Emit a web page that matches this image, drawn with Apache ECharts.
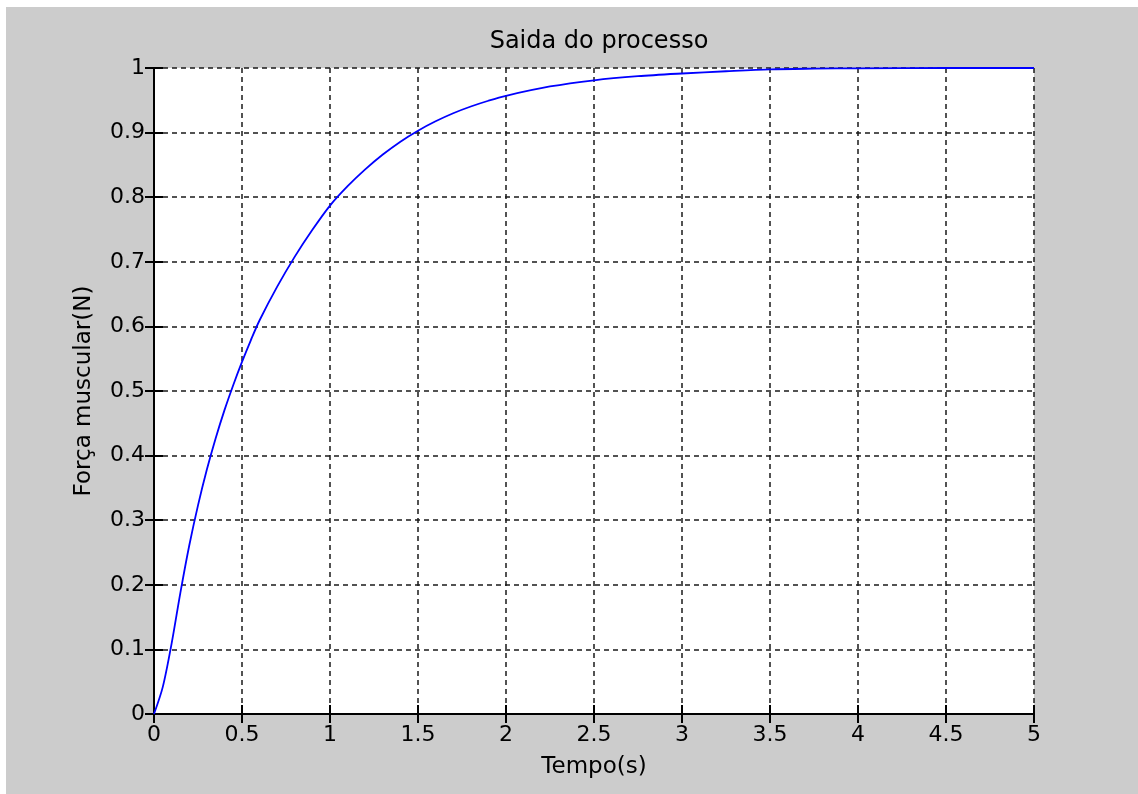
<!DOCTYPE html>
<html>
<head>
<meta charset="utf-8">
<style>
  html, body { margin: 0; padding: 0; background: #ffffff; }
  #chart { position: absolute; left: 6px; top: 7px; width: 1132px; height: 787px; background: #cccccc; }
</style>
<script src="https://cdn.jsdelivr.net/npm/echarts@6/dist/echarts.min.js"></script>
</head>
<body>
<div id="chart"></div>
<script>
const titleText = 'Saida do processo';
const xAxisName = 'Tempo(s)';
const yAxisName = 'Força muscular(N)';

const timeValues = [0, 0.05, 0.1, 0.15, 0.2, 0.25, 0.3, 0.35, 0.4, 0.45, 0.5, 0.55, 0.6, 0.7, 0.8, 0.9, 1.0, 1.1, 1.2, 1.3, 1.4, 1.5, 1.6, 1.7, 1.8, 1.9, 2.0, 2.25, 2.5, 2.75, 3.0, 3.25, 3.5, 3.75, 4.0, 4.5, 5.0];
const forceValues = [0, 0.042, 0.109, 0.188, 0.2605, 0.323, 0.378, 0.4265, 0.470, 0.509, 0.545, 0.5785, 0.6095, 0.6615, 0.708, 0.7495, 0.787, 0.817, 0.843, 0.866, 0.886, 0.903, 0.9175, 0.930, 0.9404, 0.9493, 0.957, 0.9714, 0.981, 0.9873, 0.9915, 0.995, 0.998, 0.999, 0.9995, 1, 1];

const seriesData = timeValues.map((t, i) => [t, forceValues[i]]);

const FONT = 'DejaVu Sans';
const chart = echarts.init(document.getElementById('chart'), null, { renderer: 'canvas' });

const gridDash = { color: '#1a1a1a', width: 1.5, type: [5, 4] };
const axisLineStyle = { color: '#000000', width: 2 };

chart.setOption({
  animation: false,
  backgroundColor: '#cccccc',
  title: {
    text: titleText,
    left: 148 + 440,
    textAlign: 'center',
    top: 18,
    textStyle: { fontFamily: FONT, fontSize: 24, fontWeight: 'normal', color: '#000000' }
  },
  grid: { left: 148, top: 61, width: 880, height: 646, backgroundColor: '#ffffff', show: true, borderWidth: 0 },
  xAxis: [{
    type: 'value', min: 0, max: 5, interval: 0.5, position: 'bottom',
    name: xAxisName, nameLocation: 'middle', nameGap: 42,
    nameTextStyle: { fontFamily: FONT, fontSize: 23, color: '#000000' },
    axisLine: { show: true, lineStyle: axisLineStyle },
    axisTick: { show: true, inside: true, length: 9, lineStyle: axisLineStyle },
    axisLabel: { fontFamily: FONT, fontSize: 22, color: '#000000', margin: 10 },
    splitLine: { show: true, lineStyle: gridDash }
  }, {
    type: 'value', min: 0, max: 5, interval: 0.5, position: 'top',
    axisLine: { show: true, lineStyle: axisLineStyle },
    axisTick: { show: true, inside: true, length: 9, lineStyle: axisLineStyle },
    axisLabel: { show: false },
    splitLine: { show: false }
  }],
  yAxis: [{
    type: 'value', min: 0, max: 1, interval: 0.1, position: 'left',
    name: yAxisName, nameLocation: 'middle', nameGap: 58, nameRotate: 90,
    nameTextStyle: { fontFamily: FONT, fontSize: 23, color: '#000000' },
    axisLine: { show: true, lineStyle: axisLineStyle },
    axisTick: { show: true, inside: true, length: 9, lineStyle: axisLineStyle },
    axisLabel: { fontFamily: FONT, fontSize: 22, color: '#000000', margin: 9 },
    splitLine: { show: true, lineStyle: gridDash }
  }, {
    type: 'value', min: 0, max: 1, interval: 0.1, position: 'right',
    axisLine: { show: true, lineStyle: axisLineStyle },
    axisTick: { show: true, inside: true, length: 9, lineStyle: axisLineStyle },
    axisLabel: { show: false },
    splitLine: { show: false }
  }],
  series: [{
    type: 'line',
    data: seriesData,
    xAxisIndex: 0, yAxisIndex: 0,
    showSymbol: false,
    smooth: 0.3,
    clip: false,
    lineStyle: { color: '#0000ff', width: 1.8 },
    z: 5
  }]
});
</script>
</body>
</html>
